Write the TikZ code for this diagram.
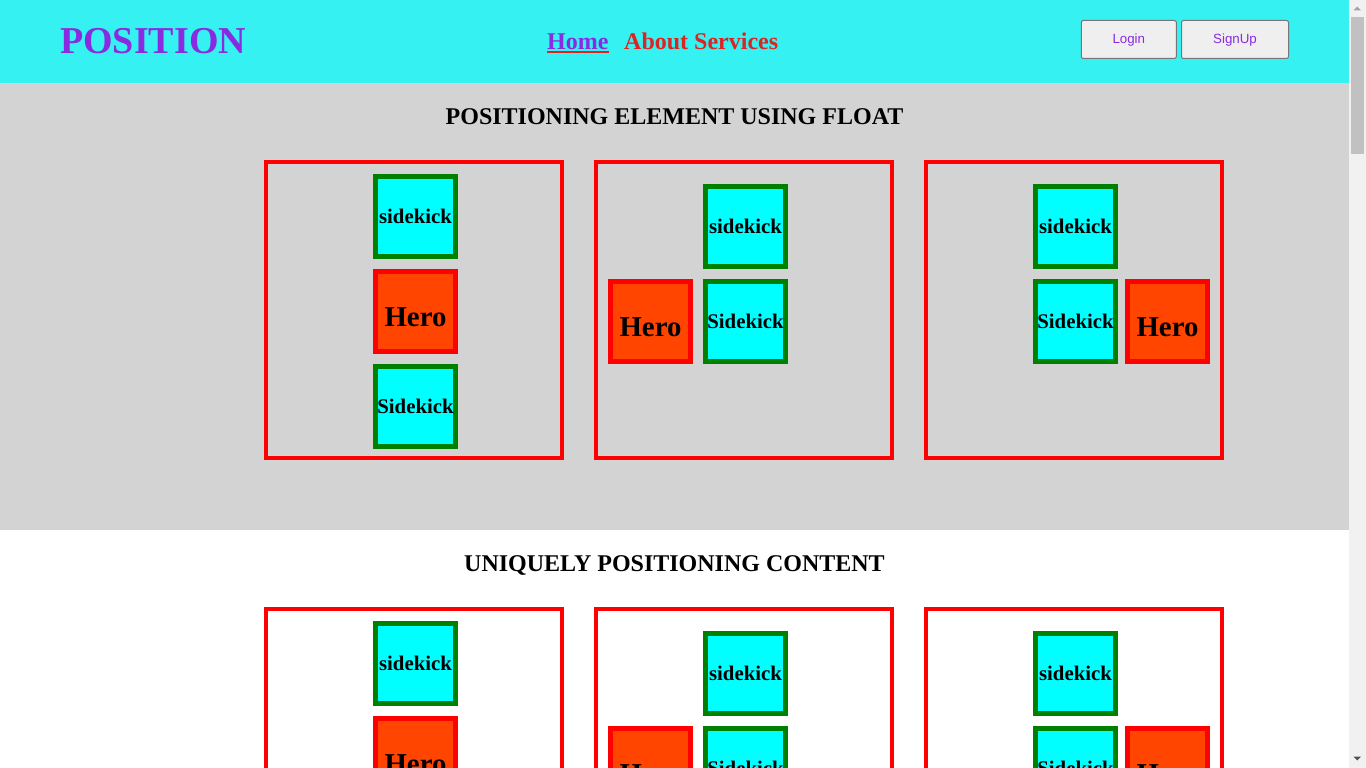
\documentclass[tikz,border=0pt]{standalone}
\usepackage{fontspec}
\setmainfont{Liberation Serif}
\newfontfamily\btnfont{Liberation Sans}
\definecolor{hdrcyan}{RGB}{54,241,241}
\definecolor{secgray}{RGB}{211,211,211}
\definecolor{bviolet}{RGB}{138,43,226}
\definecolor{navred}{RGB}{222,35,35}
\definecolor{skcyan}{RGB}{0,255,255}
\definecolor{skgreen}{RGB}{0,128,0}
\definecolor{heroorange}{RGB}{255,69,0}
\definecolor{boxred}{RGB}{255,0,0}
\definecolor{btnfill}{RGB}{239,239,239}
\definecolor{btnborder}{RGB}{118,118,118}
\definecolor{sbtrack}{RGB}{241,241,241}
\definecolor{sbthumb}{RGB}{193,193,193}
\definecolor{sbup}{RGB}{163,163,163}
\definecolor{sbdown}{RGB}{80,80,80}
\begin{document}
\begin{tikzpicture}[x=1pt,y=-1pt,
  frame/.style={draw=boxred,line width=4pt,minimum width=296pt,minimum height=296pt,inner sep=0pt},
  sk/.style={draw=skgreen,fill=skcyan,line width=5pt,minimum width=80pt,minimum height=80pt,inner sep=0pt,text height=13pt,text depth=0pt,font=\fontsize{20.8}{22}\selectfont\bfseries},
  hero/.style={draw=boxred,fill=heroorange,line width=5pt,minimum width=80pt,minimum height=80pt,inner sep=0pt,text height=30pt,text depth=0pt,font=\fontsize{28.8}{30}\selectfont\bfseries},
  heading/.style={anchor=base,inner sep=0pt,font=\fontsize{24}{26}\selectfont\bfseries},
  navlink/.style={anchor=base west,inner sep=0pt,font=\fontsize{24}{26}\selectfont\bfseries},
  btn/.style={draw=btnborder,fill=btnfill,rounded corners=2pt,line width=1pt,inner sep=0pt,minimum height=38pt,text height=9pt,text depth=0pt,text=bviolet,font=\btnfont\fontsize{13.33}{15}\selectfont}
]
\useasboundingbox (0,0) rectangle (1366,768);
\clip (0,0) rectangle (1366,768);
% backgrounds
\fill[white] (0,0) rectangle (1366,768);
\fill[hdrcyan] (0,0) rectangle (1349,83);
\fill[secgray] (0,83) rectangle (1349,530);
% header
\node[anchor=base west,inner sep=0pt,text=bviolet,font=\fontsize{38}{40}\selectfont\bfseries] (logo) at (60,54) {POSITION};
\node[navlink,text=bviolet] (home) at (547,49.5) {Home};
\draw[navred,line width=2pt] ([yshift=-2.5pt]home.base west) -- ([yshift=-2.5pt]home.base east);
\node[navlink,text=navred] (about) at (624,49.5) {About Services};
\node[btn,minimum width=95pt] (login) at (1128.8,39.5) {Login};
\node[btn,minimum width=107pt] (signup) at (1235,39.5) {SignUp};
% section 1
\node[heading] (h1) at (674.5,124.5) {POSITIONING ELEMENT USING FLOAT};
\node[frame] (fa) at (414,310) {};
\node[frame] (fb) at (744,310) {};
\node[frame] (fc) at (1074,310) {};
\node[sk] (a1) at (415.5,216.5) {sidekick};
\node[hero] (a2) at (415.5,311.5) {Hero};
\node[sk] (a3) at (415.5,406.5) {Sidekick};
\node[sk] (b1) at (745.5,226.5) {sidekick};
\node[hero] (b2) at (650.5,321.5) {Hero};
\node[sk] (b3) at (745.5,321.5) {Sidekick};
\node[sk] (c1) at (1075.5,226.5) {sidekick};
\node[sk] (c2) at (1075.5,321.5) {Sidekick};
\node[hero] (c3) at (1167.5,321.5) {Hero};
% section 2
\node[heading] (h2) at (674.5,571.5) {UNIQUELY POSITIONING CONTENT};
\node[frame] (ga) at (414,757) {};
\node[frame] (gb) at (744,757) {};
\node[frame] (gc) at (1074,757) {};
\node[sk] (d1) at (415.5,663.5) {sidekick};
\node[hero] (d2) at (415.5,758.5) {Hero};
\node[sk] (e1) at (745.5,673.5) {sidekick};
\node[hero] (e2) at (650.5,768.5) {Hero};
\node[sk] (e3) at (745.5,768.5) {Sidekick};
\node[sk] (k1) at (1075.5,673.5) {sidekick};
\node[sk] (k2) at (1075.5,768.5) {Sidekick};
\node[hero] (k3) at (1167.5,768.5) {Hero};
% scrollbar
\fill[sbtrack] (1349,0) rectangle (1366,768);
\fill[sbthumb] (1351,17) rectangle (1364,154);
\fill[sbup] (1353.5,10.5) -- (1361,10.5) -- (1357.25,6.5) -- cycle;
\fill[sbdown] (1353.5,756.5) -- (1361,756.5) -- (1357.25,760.5) -- cycle;
\end{tikzpicture}
\end{document}
